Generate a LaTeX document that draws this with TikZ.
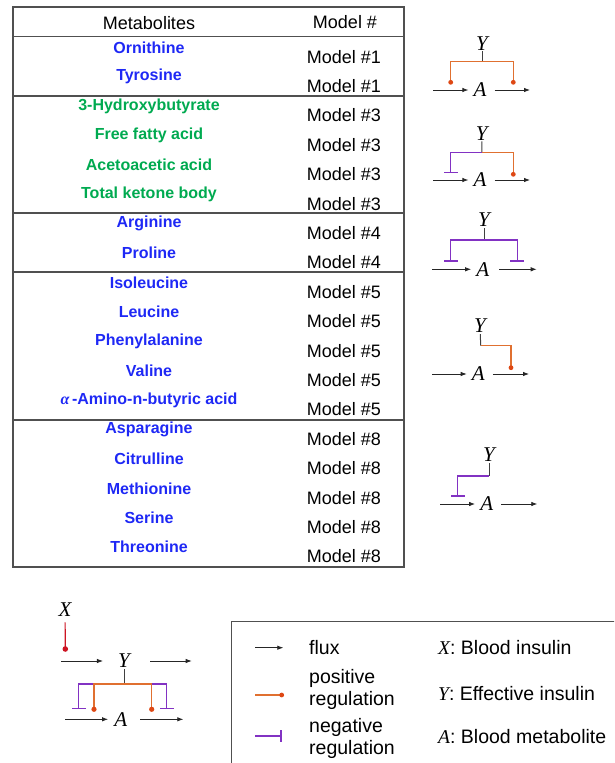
\documentclass[tikz,border=0pt]{standalone}
\usepackage{fontspec}
\setmainfont{Liberation Sans}
\newfontfamily\varfont{Liberation Serif}
\newcommand{\mv}[1]{{\varfont\itshape #1}}
\usetikzlibrary{arrows.meta}
\definecolor{metblue}{RGB}{30,40,245}
\definecolor{metgreen}{RGB}{0,170,80}
\definecolor{regorange}{RGB}{224,112,48}
\definecolor{dotred}{RGB}{222,72,20}
\definecolor{regpurple}{RGB}{130,50,195}
\definecolor{insred}{RGB}{205,20,35}
\definecolor{framegray}{RGB}{80,80,80}
\begin{document}
\begin{tikzpicture}[x=1pt,y=-1pt,
  met/.style={font=\fontsize{16}{18}\selectfont\bfseries, inner sep=0pt},
  modtxt/.style={font=\fontsize{18}{21}\selectfont, inner sep=0pt},
  var/.style={font=\fontsize{21}{23}\selectfont\varfont\itshape, inner sep=1pt},
  avar/.style={font=\fontsize{21}{23}\selectfont\varfont\itshape, inner sep=5pt},
  legtext/.style={font=\fontsize{19.5}{22.4}\selectfont, align=left, anchor=west, inner sep=2pt},
  tline/.style={draw=framegray, line width=1.1pt},
  fluxarr/.style={draw=black!85, line width=0.8pt, -{Latex[length=6pt,width=4.5pt]}},
  stemline/.style={draw=black!75, line width=1pt},
  posreg/.style={draw=regorange, line width=1.2pt},
  dotmark/.style={fill=dotred},
  negreg/.style={draw=regpurple, line width=1.2pt, -{Bar[width=13.7pt,line width=1.6pt]}},
  insreg/.style={draw=insred, line width=1.2pt}
]
\useasboundingbox (0,0) rectangle (614,763);
\clip (0,0) rectangle (614,763);

% ---------------- table ----------------
\draw[tline] (13,7) rectangle (404,567);
\foreach \yy in {36.5,96,213,272,420} \draw[tline] (13,\yy) -- (404,\yy);
\node[modtxt] (hmet) at (149,23) {Metabolites};
\node[modtxt] (hmod) at (345,22) {Model \#};
\foreach \t/\c [count=\i from 0] in {Ornithine/metblue,Tyrosine/metblue,
  3-Hydroxybutyrate/metgreen,Free fatty acid/metgreen,Acetoacetic acid/metgreen,Total ketone body/metgreen,
  Arginine/metblue,Proline/metblue,Isoleucine/metblue,Leucine/metblue,Phenylalanine/metblue,Valine/metblue,
  {\mv{α}\,-Amino-n-butyric acid}/metblue,Asparagine/metblue,Citrulline/metblue,Methionine/metblue,
  Serine/metblue,Threonine/metblue}{
  \node[met, text=\c] (met\i) at (149,{47.3+29.4*\i}) {\t};
}
\foreach \m [count=\i from 0] in {1,1,3,3,3,3,4,4,5,5,5,5,5,8,8,8,8,8}{
  \node[modtxt] (mod\i) at (344,{56.7+29.4*\i}) {Model \#\m};
}

% ---------------- model 1 ----------------
\node[var] (Y1) at (482,43.3) {Y};
\node[avar] (A1) at (480,90) {A};
\coordinate (J1) at (482,61.7);
\coordinate (i1) at (433,90); \coordinate (o1) at (530,90);
\coordinate (p1L) at (450.7,82.3); \coordinate (p1R) at (513.3,82.3);
\draw[fluxarr] (i1) -- (A1);
\draw[fluxarr, shorten <=3pt] (A1) -- (o1);
\draw[stemline] (Y1) -- (J1);
\draw[posreg] (J1) -| (p1L);
\draw[posreg] (J1) -| (p1R);
\fill[dotmark] (p1L) circle[radius=2.4pt] (p1R) circle[radius=2.4pt];

% ---------------- model 3 ----------------
\node[var] (Y2) at (481.7,133.3) {Y};
\node[avar] (A2) at (480,180) {A};
\coordinate (J2) at (482,152.7);
\coordinate (i2) at (433,180); \coordinate (o2) at (530,180);
\coordinate (n2L) at (450.7,173.3); \coordinate (p2R) at (513.3,174.3);
\draw[fluxarr] (i2) -- (A2);
\draw[fluxarr, shorten <=3pt] (A2) -- (o2);
\draw[stemline] (Y2) -- (J2);
\draw[negreg] (J2) -| (n2L);
\draw[posreg] (J2) -| (p2R);
\fill[dotmark] (p2R) circle[radius=2.4pt];

% ---------------- model 4 ----------------
\node[var] (Y3) at (484,220) {Y};
\node[avar] (A3) at (482.7,269.3) {A};
\coordinate (J3) at (484,240);
\coordinate (i3) at (432,269.3); \coordinate (o3) at (536.7,269.3);
\coordinate (n3L) at (450.7,261.7); \coordinate (n3R) at (517.3,261.7);
\draw[fluxarr] (i3) -- (A3);
\draw[fluxarr, shorten <=5pt] (A3) -- (o3);
\draw[stemline] (Y3) -- (J3);
\draw[negreg] (J3) -| (n3L);
\draw[negreg] (J3) -| (n3R);

% ---------------- model 5 ----------------
\node[var] (Y4) at (480,326) {Y};
\node[avar] (A4) at (478.3,374) {A};
\coordinate (J4) at (480.7,345.5);
\coordinate (i4) at (432,374); \coordinate (o4) at (529,374);
\coordinate (p4R) at (511,367.7);
\draw[fluxarr] (i4) -- (A4);
\draw[fluxarr, shorten <=3pt] (A4) -- (o4);
\draw[stemline] (Y4) -- (J4);
\draw[posreg] (J4) -| (p4R);
\fill[dotmark] (p4R) circle[radius=2.4pt];

% ---------------- model 8 ----------------
\node[var] (Y5) at (489,455) {Y};
\node[avar] (A5) at (486.7,504) {A};
\coordinate (J5) at (489,476);
\coordinate (i5) at (440,504); \coordinate (o5) at (537.3,504);
\coordinate (n5L) at (457.7,496.7);
\draw[fluxarr] (i5) -- (A5);
\draw[fluxarr, shorten <=3pt] (A5) -- (o5);
\draw[stemline] (Y5) -- (J5);
\draw[negreg] (J5) -| (n5L);

% ---------------- full model ----------------
\node[var] (X0) at (65,609.3) {X};
\coordinate (Xd) at (65.3,649);
\draw[insreg, shorten <=5pt] (X0) -- (Xd);
\fill[insred] (Xd) circle[radius=2.8pt];
\node[var] (Y0) at (124,661) {Y};
\coordinate (iY) at (61,661); \coordinate (oY) at (191.7,661);
\draw[fluxarr, shorten >=14pt] (iY) -- (Y0);
\draw[fluxarr, shorten <=19pt] (Y0) -- (oY);
\coordinate (J0) at (124,684);
\draw[stemline] (Y0) -- (J0);
\coordinate (K0L) at (94,684); \coordinate (K0R) at (151.7,684);
\coordinate (n0L) at (78.7,709.3); \coordinate (n0R) at (166.7,709.3);
\coordinate (p0L) at (94,709.3); \coordinate (p0R) at (151.7,709.3);
\draw[negreg] (K0L) -| (n0L);
\draw[negreg] (K0R) -| (n0R);
\draw[posreg] (J0) -| (p0L);
\draw[posreg] (J0) -| (p0R);
\fill[dotmark] (p0L) circle[radius=2.6pt] (p0R) circle[radius=2.6pt];
\node[avar] (A0) at (120.7,719.3) {A};
\coordinate (iA) at (65,719.3); \coordinate (oA) at (183.3,719.3);
\draw[fluxarr, shorten >=1pt] (iA) -- (A0);
\draw[fluxarr, shorten <=8pt] (A0) -- (oA);

% ---------------- legend ----------------
\draw[draw=framegray, line width=1pt] (231.7,621.7) rectangle (660,820);
\coordinate (lf1) at (255,647.7); \coordinate (lf2) at (283.3,647.7);
\draw[fluxarr] (lf1) -- (lf2);
\node[legtext] (tflux) at (307,647.7) {flux};
\coordinate (lp1) at (255,695); \coordinate (lp2) at (281.7,695);
\draw[posreg] (lp1) -- (lp2);
\fill[dotmark] (lp2) circle[radius=2.4pt];
\node[legtext] (tpos) at (307,689.5) {positive\\regulation};
\coordinate (ln1) at (255,736); \coordinate (ln2) at (281.7,736);
\draw[negreg, -{Bar[width=11.7pt,line width=1.6pt]}] (ln1) -- (ln2);
\node[legtext] (tneg) at (307,738.3) {negative\\regulation};
\node[legtext] (tX) at (436,647.7) {\mv{X}: Blood insulin};
\node[legtext] (tY) at (436,693.3) {\mv{Y}: Effective insulin};
\node[legtext] (tA) at (436,736.7) {\mv{A}: Blood metabolite};
\end{tikzpicture}
\end{document}
